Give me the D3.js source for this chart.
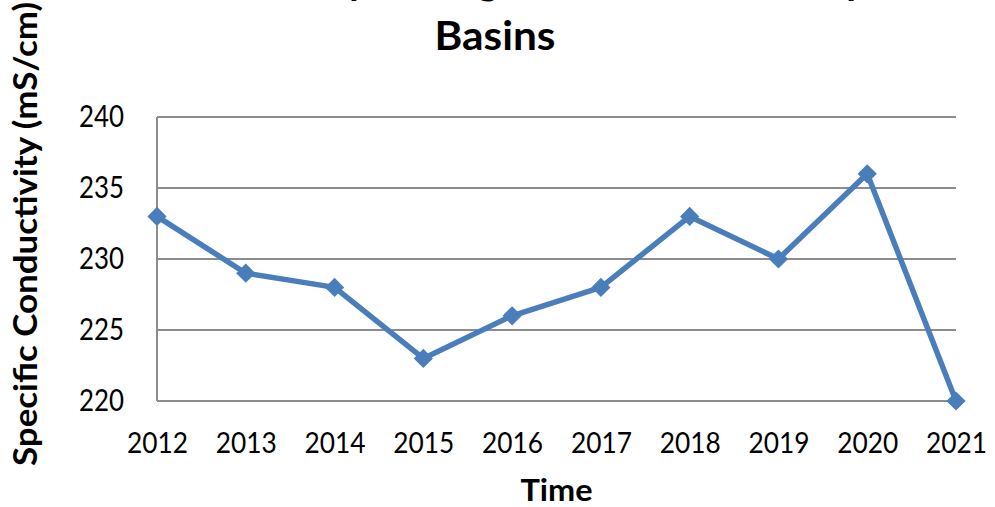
<!DOCTYPE html>
<html>
<head>
<meta charset="utf-8">
<script src="https://cdn.jsdelivr.net/npm/d3@7"></script>
<style>
  html, body { margin: 0; padding: 0; background: #fff; }
  svg { display: block; font-family: Lato, "Open Sans", sans-serif; }
</style>
</head>
<body>
<svg></svg>
<script>
const size = {w: 995, h: 507};
const plot = {l: 157, r: 956, t: 117, b: 401};

// chart values
const years = ['2012', '2013', '2014', '2015', '2016', '2017', '2018', '2019', '2020', '2021'];
const conductivity = [233, 229, 228, 223, 226, 228, 233, 230, 236, 220];
const yTicks = [220, 225, 230, 235, 240];
const titleLines = ['Conductivity Averages of the Three Sample', 'Basins'];

const svg = d3.select('svg')
    .attr('width', size.w)
    .attr('height', size.h);

// scales
const x = d3.scalePoint()
    .domain(years)
    .range([plot.l, plot.r]);

const y = d3.scaleLinear()
    .domain([220, 240])
    .range([plot.b, plot.t]);

// horizontal gridlines
svg.append('g').classed('grid', true)
    .selectAll('line')
    .data(yTicks)
    .join('line')
    .attr('x1', plot.l)
    .attr('x2', plot.r)
    .attr('y1', d => y(d))
    .attr('y2', d => y(d))
    .attr('stroke', '#8c8c8c')
    .attr('stroke-width', 2);

// left axis line
svg.append('line')
    .attr('x1', plot.l).attr('x2', plot.l)
    .attr('y1', plot.t).attr('y2', plot.b)
    .attr('stroke', '#8c8c8c')
    .attr('stroke-width', 2);

// y axis labels
const yAxis = svg.append('g')
    .attr('transform', `translate(${plot.l},0)`)
    .call(d3.axisLeft(y).tickValues(yTicks).tickSize(0).tickPadding(33));
yAxis.select('.domain').remove();
yAxis.selectAll('text')
    .attr('font-size', 30)
    .attr('font-family', 'Lato')
    .attr('fill', '#000')
    .attr('textLength', 45)
    .attr('lengthAdjust', 'spacingAndGlyphs');

// x axis labels
const xAxis = svg.append('g')
    .attr('transform', `translate(0,${plot.b})`)
    .call(d3.axisBottom(x).tickSize(0).tickPadding(31));
xAxis.select('.domain').remove();
xAxis.selectAll('text')
    .attr('font-size', 29)
    .attr('font-family', 'Lato')
    .attr('fill', '#000')
    .attr('textLength', 61)
    .attr('lengthAdjust', 'spacingAndGlyphs');

// the series line
const line = d3.line()
    .x((d, i) => x(years[i]))
    .y(d => y(d));

svg.append('path')
    .datum(conductivity)
    .attr('d', line)
    .attr('fill', 'none')
    .attr('stroke', '#4a7ebb')
    .attr('stroke-width', 5.5)
    .attr('stroke-linejoin', 'round');

// diamond markers
const diamond = d3.symbol(d3.symbolSquare, 185);
svg.append('g').classed('markers', true)
    .selectAll('path')
    .data(conductivity)
    .join('path')
    .attr('d', diamond)
    .attr('transform', (d, i) => `translate(${x(years[i])},${y(d)}) rotate(45)`)
    .attr('fill', '#4a7ebb');

// axis titles
svg.append('text')
    .attr('x', (plot.l + plot.r) / 2)
    .attr('y', 501)
    .attr('text-anchor', 'middle')
    .attr('font-size', 31)
    .attr('font-weight', 'bold')
    .attr('textLength', 72)
    .attr('lengthAdjust', 'spacingAndGlyphs')
    .text('Time');

svg.append('text')
    .attr('transform', 'translate(37,234) rotate(-90)')
    .attr('text-anchor', 'middle')
    .attr('font-size', 32)
    .attr('font-weight', 'bold')
    .attr('textLength', 464)
    .attr('lengthAdjust', 'spacingAndGlyphs')
    .text('Specific Conductivity (mS/cm)');

// chart title, first line mostly above the visible area
svg.append('text')
    .attr('x', 520)
    .attr('y', -6)
    .attr('text-anchor', 'middle')
    .attr('font-size', 40)
    .attr('font-weight', 'bold')
    .attr('textLength', 760)
    .attr('lengthAdjust', 'spacingAndGlyphs')
    .text(titleLines[0]);

svg.append('text')
    .attr('x', 495)
    .attr('y', 50)
    .attr('text-anchor', 'middle')
    .attr('font-size', 40)
    .attr('font-weight', 'bold')
    .attr('textLength', 121)
    .attr('lengthAdjust', 'spacingAndGlyphs')
    .text(titleLines[1]);
</script>
</body>
</html>
